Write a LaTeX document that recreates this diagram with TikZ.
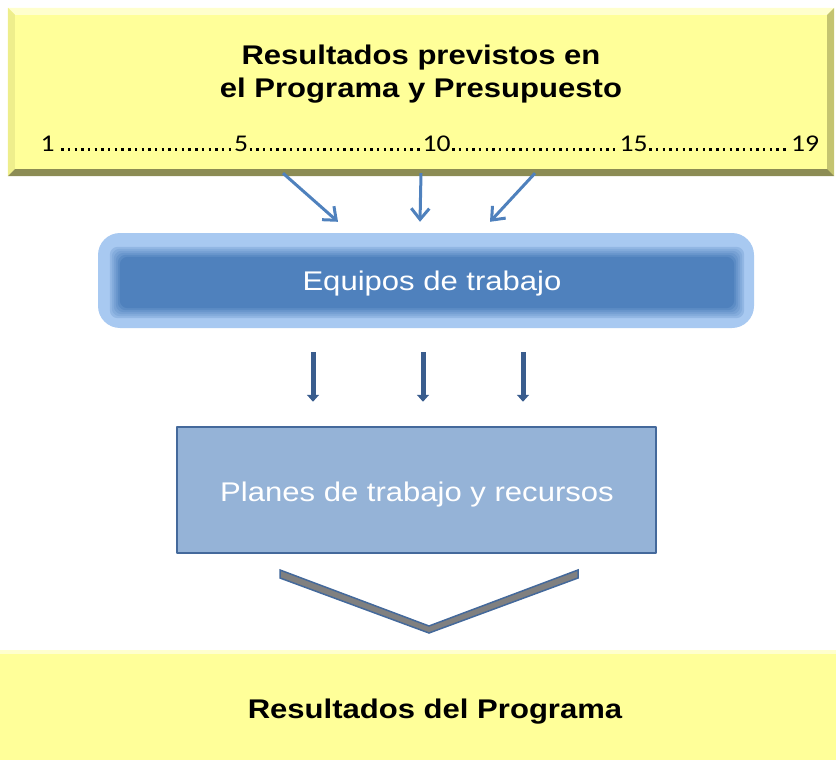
\documentclass[tikz,border=0pt]{standalone}
\usepackage{fontspec}
\setmainfont{Liberation Sans}[FakeStretch=1.15]
\newfontfamily\numfont{Carlito}[FakeStretch=1.15]
\usetikzlibrary{arrows.meta,calc}
\definecolor{boxyellow}{RGB}{255,255,153}
\definecolor{bevtop}{RGB}{255,255,205}
\definecolor{bevleft}{RGB}{238,238,140}
\definecolor{bevright}{RGB}{196,196,112}
\definecolor{bevbot}{RGB}{140,140,84}
\definecolor{glowblue}{RGB}{168,201,241}
\definecolor{teamblue}{RGB}{79,129,189}
\definecolor{linkblue}{RGB}{79,129,189}
\definecolor{downblue}{RGB}{58,93,142}
\definecolor{planfill}{RGB}{149,179,215}
\definecolor{planline}{RGB}{68,105,155}
\definecolor{chevgray}{RGB}{128,128,128}
\tikzset{
  lbl/.style={anchor=base,inner sep=0pt,font=\fontsize{27}{33}\selectfont},
  num/.style={anchor=base,inner sep=1.5pt,font=\numfont\fontsize{24}{24}\selectfont},
  dotrow/.style={line width=2.4pt,dash pattern=on 2.4pt off 4.3pt},
  toparrow/.style={draw=linkblue,line width=3pt,-{Straight Barb[length=11pt,width=18pt]}},
  downarrow/.style={draw=downblue,line width=5pt,-{Triangle[length=7pt,width=12pt]}}
}
\begin{document}
\begin{tikzpicture}[x=1pt,y=-1pt,line join=round]
\useasboundingbox (0,0) rectangle (836,760);
% caja superior
\node[fill=boxyellow,minimum width=826pt,minimum height=168pt,inner sep=0pt] (prev) at (421,92) {};
\fill[bevtop] (prev.north west) -- (prev.north east) -- ++(-7,7) -- ($(prev.north west)+(7,7)$) -- cycle;
\fill[bevleft] (prev.north west) -- (prev.south west) -- ++(7,-7) -- ($(prev.north west)+(7,7)$) -- cycle;
\fill[bevright] (prev.north east) -- (prev.south east) -- ++(-7,-7) -- ($(prev.north east)+(-7,7)$) -- cycle;
\fill[bevbot] (prev.south west) -- (prev.south east) -- ++(-7,-7) -- ($(prev.south west)+(7,-7)$) -- cycle;
\node[align=center,inner sep=0pt,font=\fontsize{27}{33}\selectfont\bfseries] (title) at (421,74.5)
  {Resultados previstos en\\el Programa y Presupuesto};
\foreach \n/\x in {1/47.5,5/241,10/436.5,15/633.5,19/805}
  \node[num] (n\n) at (\x,151) {\n};
\draw[dotrow] ([xshift=5pt,yshift=1.4pt]n1.base east) -- ([yshift=1.4pt]n5.base west);
\foreach \a/\b in {5/10,10/15,15/19}
  \draw[dotrow] ([yshift=1.4pt]n\a.base east) -- ([yshift=1.4pt]n\b.base west);
% equipos
\node[fill=glowblue,rounded corners=22pt,minimum width=656pt,minimum height=95pt] (equipos) at (426,280.5) {};
\foreach \i [evaluate=\i as \p using int(25+15*\i)] in {0,...,5}
  \fill[teamblue!\p!glowblue,rounded corners=8pt]
    ($(equipos.north west)+(12+2*\i,14+2*\i)$) rectangle ($(equipos.south east)+(-10-2*\i,-10-2*\i)$);
\node[lbl,text=white] (equiposlbl) at (432,290) {Equipos de trabajo};
\foreach \s/\e in {-138/-88,0/-6,114/64}
  \draw[toparrow] ($(prev.south)+(\s,-3)$) -- ($(equipos.north)+(\e,-11)$);
% planes
\node[fill=planfill,draw=planline,line width=2.5pt,minimum width=479pt,minimum height=126pt] (planes) at (416.5,490) {};
\node[lbl,text=white] (planeslbl) at (417,501) {Planes de trabajo y recursos};
\foreach \s/\e in {-113/-103.5,-3/6.5,97/106.5}
  \draw[downarrow] ($(equipos.south)+(\s,24)$) -- ($(planes.north)+(\e,-24)$);
% flecha en V
\filldraw[fill=chevgray,draw=planline,line width=1.5pt,line join=miter]
  (280,570) -- (429,626) -- (578,570) -- (578,578) -- (429,633) -- (280,578) -- cycle;
% caja inferior
\node[fill=boxyellow,minimum width=836pt,minimum height=110pt,inner sep=0pt] (res) at (418,705) {};
\fill[bevtop] (res.north west) rectangle ($(res.north east)+(0,4)$);
\node[lbl,font=\fontsize{27}{33}\selectfont\bfseries] (reslbl) at (435,718) {Resultados del Programa};
\end{tikzpicture}
\end{document}
